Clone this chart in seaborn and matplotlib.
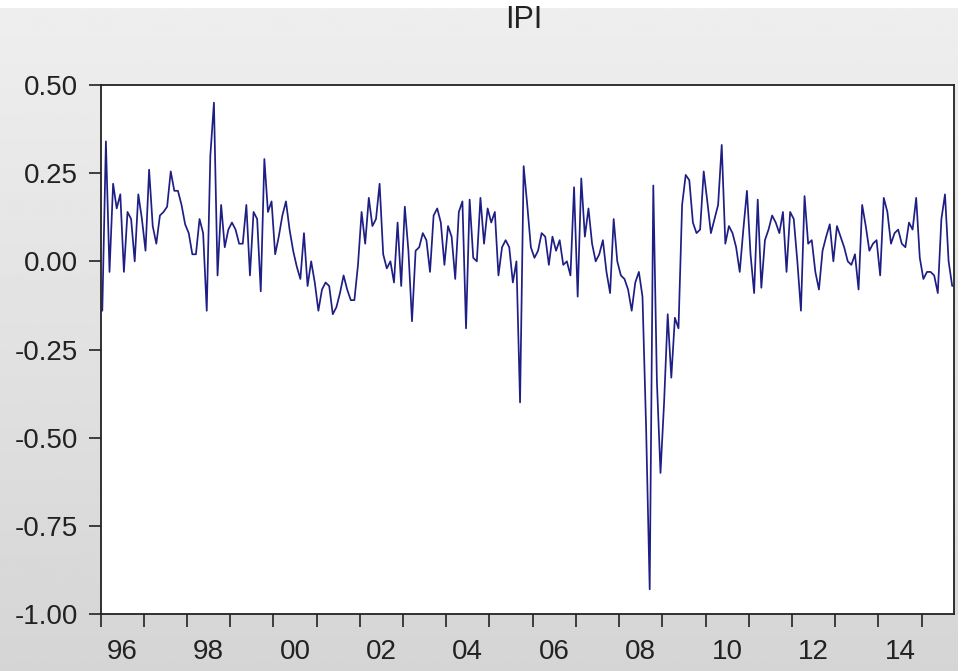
import numpy as np
import pandas as pd
import matplotlib
matplotlib.use("Agg")
import matplotlib.pyplot as plt
import seaborn as sns

# ---- data (monthly, 1996M01 - 2015M09) ----
title = "IPI"
start_year = 1996
ipi = [
    -0.14, 0.34, -0.03, 0.22, 0.15, 0.19, -0.03, 0.14, 0.12, 0.00,
    0.19, 0.12, 0.03, 0.26, 0.10, 0.05, 0.13, 0.14, 0.155, 0.255,
    0.20, 0.20, 0.16, 0.105, 0.08, 0.02, 0.02, 0.12, 0.08, -0.14,
    0.30, 0.45, -0.04, 0.16, 0.04, 0.09, 0.11, 0.09, 0.05, 0.05,
    0.16, -0.04, 0.14, 0.12, -0.085, 0.29, 0.14, 0.17, 0.02, 0.07,
    0.13, 0.17, 0.09, 0.03, -0.015, -0.05, 0.08, -0.07, 0.00, -0.06,
    -0.14, -0.08, -0.06, -0.07, -0.15, -0.13, -0.09, -0.04, -0.08, -0.11,
    -0.11, -0.01, 0.14, 0.05, 0.18, 0.10, 0.12, 0.22, 0.02, -0.02,
    0.00, -0.06, 0.11, -0.07, 0.155, 0.03, -0.17, 0.03, 0.04, 0.08,
    0.06, -0.03, 0.13, 0.15, 0.11, -0.01, 0.10, 0.07, -0.05, 0.14,
    0.17, -0.19, 0.175, 0.01, 0.00, 0.18, 0.05, 0.15, 0.11, 0.14,
    -0.04, 0.04, 0.06, 0.04, -0.06, 0.00, -0.40, 0.27, 0.16, 0.04,
    0.01, 0.03, 0.08, 0.07, -0.01, 0.07, 0.03, 0.06, -0.01, 0.00,
    -0.04, 0.21, -0.10, 0.235, 0.07, 0.15, 0.05, 0.00, 0.02, 0.06,
    -0.03, -0.09, 0.12, 0.00, -0.04, -0.05, -0.08, -0.14, -0.06, -0.03,
    -0.10, -0.47, -0.93, 0.215, -0.34, -0.60, -0.40, -0.15, -0.33, -0.16,
    -0.19, 0.16, 0.245, 0.23, 0.11, 0.08, 0.09, 0.255, 0.17, 0.08,
    0.12, 0.16, 0.33, 0.05, 0.10, 0.08, 0.04, -0.03, 0.09, 0.20,
    0.02, -0.09, 0.175, -0.075, 0.06, 0.09, 0.13, 0.11, 0.08, 0.14,
    -0.03, 0.14, 0.12, 0.00, -0.14, 0.185, 0.05, 0.06, -0.03, -0.08,
    0.03, 0.07, 0.105, 0.00, 0.10, 0.07, 0.04, 0.00, -0.01, 0.02,
    -0.08, 0.16, 0.10, 0.03, 0.05, 0.06, -0.04, 0.18, 0.14, 0.05,
    0.08, 0.09, 0.05, 0.04, 0.11, 0.09, 0.18, 0.01, -0.05, -0.03,
    -0.03, -0.04, -0.09, 0.12, 0.19, 0.00, -0.07,
]
y_ticks = [0.50, 0.25, 0.00, -0.25, -0.50, -0.75, -1.00]
x_label_years = [1996, 1998, 2000, 2002, 2004, 2006, 2008, 2010, 2012, 2014]
x_labels = ["96", "98", "00", "02", "04", "06", "08", "10", "12", "14"]

n = len(ipi)
t = start_year + (np.arange(n) + 0.5) / 12.0
df = pd.DataFrame({"t": t, "IPI": ipi})

sns.set_style("white")
plt.rcParams["font.family"] = ["Liberation Sans", "DejaVu Sans"]
plt.rcParams["axes.unicode_minus"] = False

W, H = 964, 671
fig = plt.figure(figsize=(W / 100, H / 100), dpi=100)

# background gradient (EViews-like frame)
bg = fig.add_axes([0, 0, 1, 1], zorder=-5)
grad = np.linspace(0.935, 0.835, 256)
img = np.repeat(grad[:, None], 16, axis=1)
bg.imshow(img, cmap="gray", vmin=0, vmax=1, aspect="auto",
          extent=[0, 1, 0, 1], origin="upper")
bg.axhspan(1 - 8 / H, 1, color="white", lw=0)
bg.axvspan(1 - 6 / W, 1, color="white", lw=0)
bg.set_xlim(0, 1)
bg.set_ylim(0, 1)
bg.axis("off")

left, right = 100.5 / W, 954 / W
bottom, top = 1 - 614 / H, 1 - 85 / H
ax = fig.add_axes([left, bottom, right - left, top - bottom], zorder=1)
ax.set_facecolor("white")

sns.lineplot(data=df, x="t", y="IPI", ax=ax, color="#1e1e85",
             linewidth=1.25, legend=False)

ax.set_xlim(start_year, start_year + n / 12.0)
ax.set_ylim(-1.0, 0.5)
ax.set_xlabel("")
ax.set_ylabel("")

ax.set_yticks(y_ticks)
ax.set_yticklabels([f"{v:.2f}" for v in y_ticks])

years = np.arange(start_year, start_year + n // 12 + 1)
ax.set_xticks(years)
ax.set_xticklabels([""] * len(years))
ax.set_xticks([y + 0.5 for y in x_label_years], minor=True)
ax.set_xticklabels(x_labels, minor=True)

ax.tick_params(axis="both", which="major", direction="out", length=9,
               width=1.2, color="#222222", labelsize=20, labelcolor="#222222",
               left=True, bottom=True, pad=7)
ax.tick_params(axis="x", which="minor", length=0, labelsize=20,
               labelcolor="#222222", pad=18)
for s in ax.spines.values():
    s.set_visible(True)
    s.set_color("#222222")
    s.set_linewidth(1.3)

fig.text((left + right) / 2 - 0.004, 1 - 20 / H, title, ha="center",
         va="center", fontsize=22, color="#222222")

fig.savefig("out.png", dpi=100)
